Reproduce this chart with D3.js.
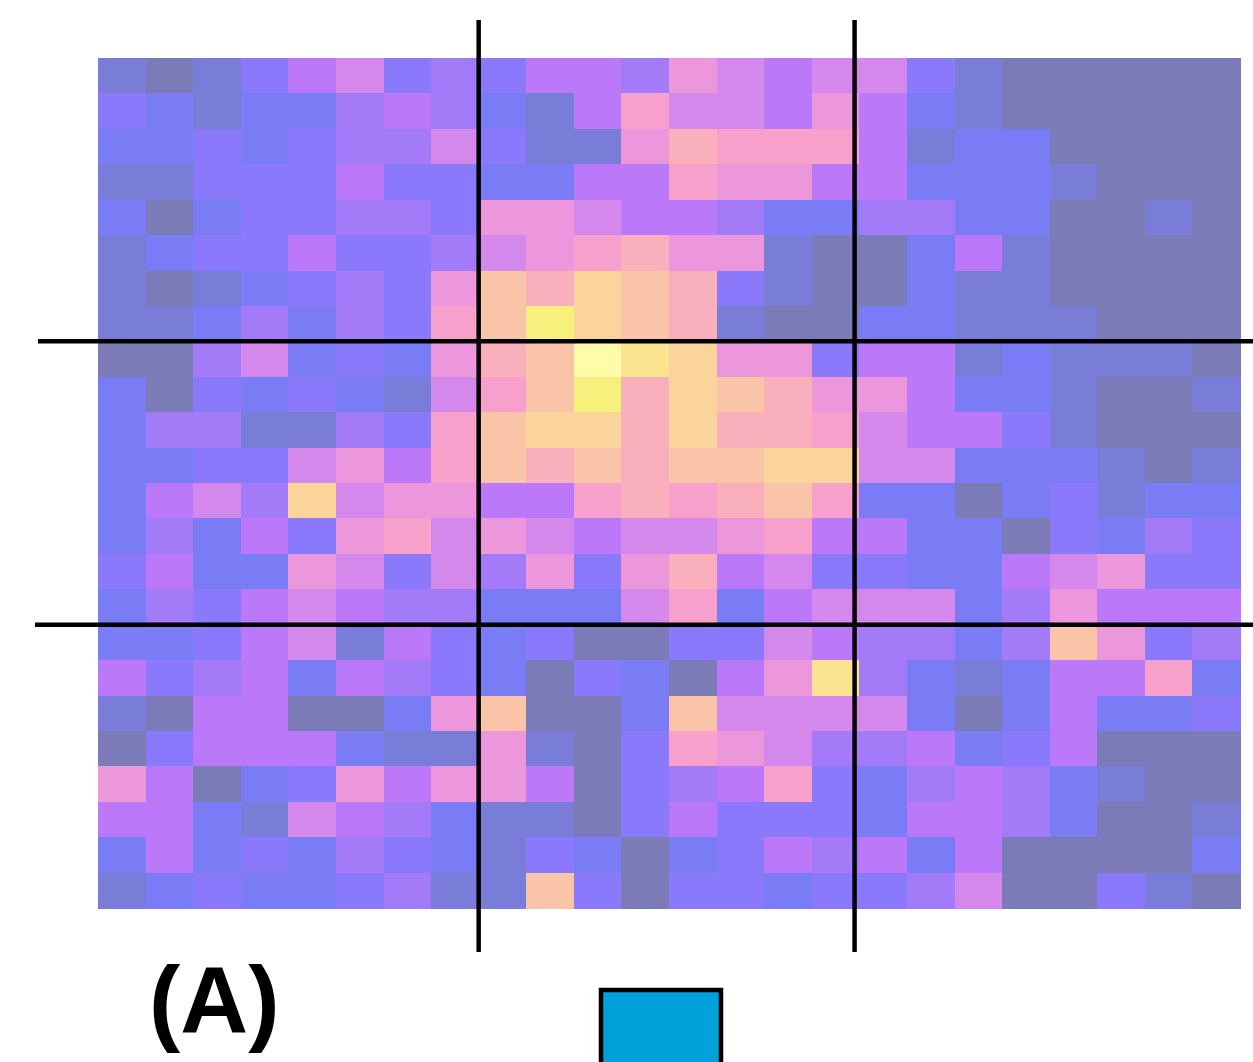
<!DOCTYPE html>
<html>
<head>
<meta charset="utf-8">
<script src="https://cdn.jsdelivr.net/npm/d3@7"></script>
<style>
  body { margin: 0; background: #fff; }
  #chart { width: 1253px; height: 1062px; }
</style>
</head>
<body>
<div id="chart"></div>
<script>
// level of each cell, row by row (0 = grey ... 14 = pale yellow)
const values = [
  [1,0,1,3,5,6,3,4, 3,5,5,4,7,6,5,6, 6,3,1,0,0,0,0,0],
  [3,2,1,2,2,4,5,4, 2,1,5,8,6,6,5,7, 5,2,1,0,0,0,0,0],
  [2,2,3,2,3,4,4,6, 3,1,1,7,9,8,8,8, 5,1,2,2,0,0,0,0],
  [1,1,3,3,3,5,3,3, 2,2,5,5,8,7,7,5, 5,2,2,2,1,0,0,0],
  [2,0,2,3,3,4,4,3, 7,7,6,5,5,4,2,2, 4,4,2,2,0,0,1,0],
  [1,2,3,3,5,3,3,4, 6,7,8,9,7,7,1,0, 0,2,5,1,0,0,0,0],
  [1,0,1,2,3,4,3,7, 10,9,11,10,9,3,1,0, 0,2,1,1,0,0,0,0],
  [1,1,2,4,2,4,3,8, 10,13,11,10,9,1,0,0, 2,2,1,1,1,0,0,0],
  [0,0,4,6,2,3,2,7, 9,10,14,12,11,7,7,3, 5,5,1,2,1,1,1,0],
  [2,0,3,2,3,2,1,6, 8,10,13,9,11,10,9,7, 7,5,2,2,1,0,0,1],
  [2,4,4,1,1,4,3,8, 10,11,11,9,11,9,9,8, 6,5,5,3,1,0,0,0],
  [2,2,3,3,6,7,5,8, 10,9,10,9,10,10,11,11, 6,6,2,2,2,1,0,1],
  [2,5,6,4,11,6,7,7, 5,5,8,9,8,9,10,8, 2,2,0,2,3,1,2,2],
  [2,4,2,5,3,7,8,6, 7,6,5,6,6,7,8,5, 5,2,2,0,3,2,4,3],
  [3,5,2,2,7,6,3,6, 4,7,3,7,9,5,6,3, 3,2,2,5,6,7,3,3],
  [2,4,3,5,6,5,4,4, 2,2,2,6,8,2,5,6, 6,6,2,4,7,5,5,5],
  [2,2,3,5,6,1,5,3, 2,3,0,0,3,3,6,5, 4,4,2,4,10,7,3,4],
  [5,3,4,5,2,5,4,3, 2,0,3,2,0,5,7,12, 4,2,1,2,5,5,8,2],
  [1,0,5,5,0,0,2,7, 10,0,0,2,10,6,6,6, 6,2,0,2,5,2,2,3],
  [0,3,5,5,5,2,1,1, 7,1,0,3,8,7,6,4, 4,5,2,3,5,0,0,0],
  [7,5,0,2,3,7,5,7, 7,5,0,3,4,5,8,3, 2,4,5,4,2,1,0,0],
  [5,5,2,1,6,5,4,2, 1,1,0,3,5,3,3,3, 2,5,5,4,2,0,0,1],
  [2,5,2,3,2,4,3,2, 1,3,2,0,2,3,5,4, 5,2,5,0,0,0,0,2],
  [1,2,3,2,2,3,4,1, 1,10,3,0,3,3,2,3, 3,4,6,0,0,3,1,0]
];

const palette = ["#7b7bb8", "#7a7dd8", "#7a7cf5", "#8a79fb", "#a37bf8",
  "#bb78f8", "#d488ec", "#ec96dc", "#f8a0cc", "#f9b0bc",
  "#fac4a8", "#fbd49c", "#fae490", "#f8f07c", "#fefca8"];

// divider lines, in cell units
const colDividers = [8, 15.9];
const rowDividers = [8, 16];

const panelLabel = "(A)";

const width = 1253;
const height = 1062;

const svg = d3.select("#chart")
  .append("svg")
  .attr("width", width)
  .attr("height", height);

const nCols = values[0].length;
const nRows = values.length;

// SCALES

const xScale = d3.scaleBand()
  .domain(d3.range(nCols))
  .range([98, 1240]);

const yScale = d3.scaleBand()
  .domain(d3.range(nRows))
  .range([58, 908]);

const xUnit = d3.scaleLinear().domain([0, nCols]).range([98, 1240]);
const yUnit = d3.scaleLinear().domain([0, nRows]).range([58, 908]);

const colorScale = d3.scaleOrdinal()
  .domain(d3.range(palette.length))
  .range(palette);

// CELLS

const cells = [];
values.forEach(function(row, r) {
  row.forEach(function(v, c) { cells.push({r: r, c: c, v: v}); });
});

svg.append("g")
  .selectAll("rect")
  .data(cells)
  .enter()
  .append("rect")
    .attr("x", function(d) { return xScale(d.c); })
    .attr("y", function(d) { return yScale(d.r); })
    .attr("width", xScale.bandwidth() + 0.5)
    .attr("height", yScale.bandwidth() + 0.5)
    .attr("fill", function(d) { return colorScale(d.v); })
    .attr("shape-rendering", "crispEdges");

// DIVIDERS

svg.append("g")
  .selectAll("line")
  .data(colDividers)
  .enter()
  .append("line")
    .attr("x1", function(d) { return xUnit(d); })
    .attr("x2", function(d) { return xUnit(d); })
    .attr("y1", 20)
    .attr("y2", 952)
    .attr("stroke", "#000")
    .attr("stroke-width", 4.5);

svg.append("g")
  .selectAll("line")
  .data(rowDividers)
  .enter()
  .append("line")
    .attr("x1", function(d, i) { return i == 0 ? 38 : 35; })
    .attr("x2", width)
    .attr("y1", function(d) { return yUnit(d); })
    .attr("y2", function(d) { return yUnit(d); })
    .attr("stroke", "#000")
    .attr("stroke-width", 4.5);

// LABEL + SWATCH

svg.append("text")
  .attr("x", 149)
  .attr("y", 1033)
  .attr("font-family", "Liberation Sans, Arial, sans-serif")
  .attr("font-weight", "bold")
  .attr("font-size", 94)
  .attr("fill", "#000")
  .text(panelLabel);

svg.append("rect")
  .attr("x", 601)
  .attr("y", 990)
  .attr("width", 120)
  .attr("height", 100)
  .attr("fill", "#00a0da")
  .attr("stroke", "#000")
  .attr("stroke-width", 4.5);
</script>
</body>
</html>
